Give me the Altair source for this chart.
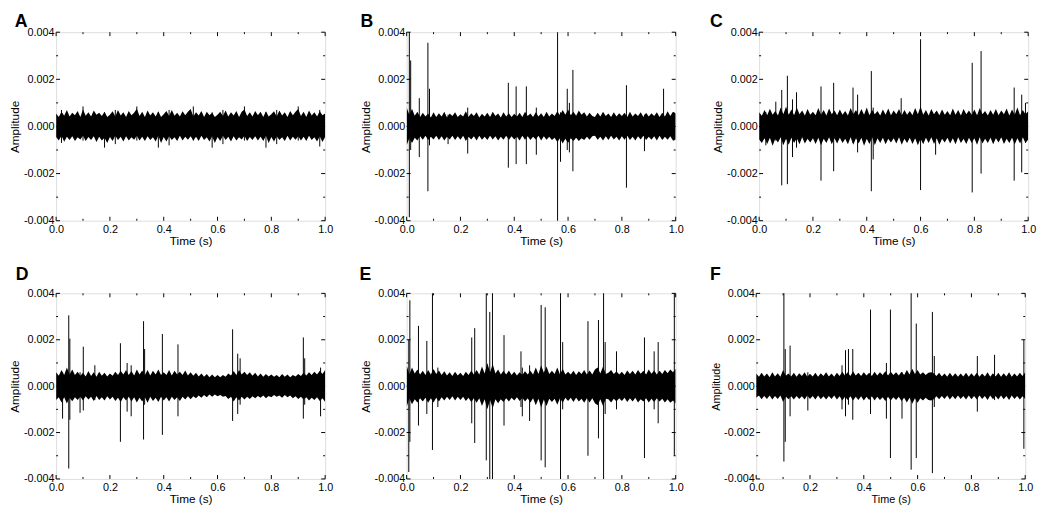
import altair as alt
import pandas as pd

FONT = "Liberation Sans"
W = 274

# sample grid (s) for the noise-band envelope
GRID_T = [0.00, 0.01, 0.02, 0.03, 0.04, 0.05, 0.06, 0.07, 0.08, 0.09,
          0.10, 0.11, 0.12, 0.13, 0.14, 0.15, 0.16, 0.17, 0.18, 0.19,
          0.20, 0.21, 0.22, 0.23, 0.24, 0.25, 0.26, 0.27, 0.28, 0.29,
          0.30, 0.31, 0.32, 0.33, 0.34, 0.35, 0.36, 0.37, 0.38, 0.39,
          0.40, 0.41, 0.42, 0.43, 0.44, 0.45, 0.46, 0.47, 0.48, 0.49,
          0.50, 0.51, 0.52, 0.53, 0.54, 0.55, 0.56, 0.57, 0.58, 0.59,
          0.60, 0.61, 0.62, 0.63, 0.64, 0.65, 0.66, 0.67, 0.68, 0.69,
          0.70, 0.71, 0.72, 0.73, 0.74, 0.75, 0.76, 0.77, 0.78, 0.79,
          0.80, 0.81, 0.82, 0.83, 0.84, 0.85, 0.86, 0.87, 0.88, 0.89,
          0.90, 0.91, 0.92, 0.93, 0.94, 0.95, 0.96, 0.97, 0.98, 0.99,
          1.00]

X_MAJOR = [0.0, 0.2, 0.4, 0.6, 0.8, 1.0]
X_MINOR = [0.1, 0.3, 0.5, 0.7, 0.9]
Y_MAJOR = [-0.004, -0.002, 0.0, 0.002, 0.004]
Y_MINOR = [-0.003, -0.001, 0.001, 0.003]

# noise-band envelope, units of 1e-5
A_UP = [55, 40, 62, 45, 70, 42, 58, 48, 66, 40, 72, 45, 60, 42, 68, 50, 58, 44, 62, 40,
        50, 64, 42, 70, 46, 60, 40, 66, 48, 58, 75, 44, 62, 40, 68, 46, 60, 42, 64, 40,
        52, 66, 44, 70, 45, 58, 42, 64, 48, 62, 74, 42, 60, 46, 66, 40, 62, 48, 58, 40,
        50, 62, 44, 68, 42, 60, 46, 66, 40, 62, 72, 44, 60, 42, 66, 48, 62, 40, 64, 42,
        52, 64, 42, 68, 46, 60, 40, 66, 48, 62, 74, 44, 62, 40, 68, 46, 60, 42, 64, 48, 55]
A_LO = [-45, -60, -40, -65, -44, -58, -42, -62, -46, -55, -40, -62, -45, -58, -42, -66, -44, -60, -48, -70,
        -45, -62, -40, -58, -44, -64, -42, -60, -46, -56, -40, -60, -44, -62, -42, -58, -46, -64, -40, -70,
        -45, -64, -42, -58, -46, -62, -40, -60, -44, -56, -42, -60, -44, -62, -40, -58, -46, -64, -42, -70,
        -45, -62, -40, -58, -44, -64, -42, -60, -46, -55, -40, -62, -45, -58, -42, -60, -44, -62, -40, -70,
        -45, -64, -42, -58, -46, -62, -40, -60, -44, -56, -42, -60, -44, -62, -40, -58, -46, -64, -42, -66, -45]

B_UP = [80, 50, 75, 45, 62, 40, 58, 42, 55, 38, 60, 40, 56, 42, 62, 38, 55, 44, 60, 40,
        52, 42, 65, 40, 56, 44, 60, 38, 54, 42, 58, 40, 62, 44, 55, 38, 60, 42, 56, 40,
        54, 42, 58, 40, 62, 44, 55, 40, 60, 42, 56, 40, 62, 42, 55, 44, 65, 48, 70, 50,
        72, 48, 62, 45, 68, 50, 60, 42, 58, 44, 40, 58, 42, 62, 44, 55, 40, 60, 42, 56,
        44, 58, 40, 62, 42, 55, 44, 60, 40, 58, 42, 56, 44, 60, 40, 58, 42, 64, 44, 62, 55]
B_LO = [-80, -50, -70, -48, -60, -42, -56, -40, -58, -44, -55, -40, -58, -42, -60, -44, -55, -40, -58, -42,
        -56, -40, -62, -44, -55, -42, -60, -40, -56, -44, -58, -40, -55, -42, -60, -44, -56, -40, -58, -42,
        -55, -44, -60, -40, -56, -42, -58, -44, -55, -40, -60, -42, -56, -44, -58, -48, -66, -50, -72, -52,
        -70, -50, -62, -48, -62, -50, -58, -44, -56, -42, -40, -56, -44, -60, -42, -58, -40, -55, -44, -60,
        -42, -56, -40, -58, -44, -60, -42, -55, -40, -58, -44, -56, -42, -60, -40, -58, -44, -56, -42, -60, -55]

C_UP = [60, 45, 70, 48, 75, 50, 66, 46, 80, 52, 85, 50, 72, 48, 80, 52, 68, 46, 74, 50,
        62, 48, 78, 50, 70, 46, 76, 52, 68, 48, 72, 50, 66, 46, 78, 52, 70, 48, 74, 50,
        80, 48, 70, 52, 66, 46, 72, 50, 76, 48, 68, 52, 74, 46, 70, 50, 66, 48, 78, 52,
        85, 50, 70, 46, 74, 52, 68, 48, 72, 50, 66, 48, 76, 50, 70, 46, 74, 52, 68, 50,
        72, 48, 78, 52, 66, 46, 70, 50, 74, 48, 68, 52, 76, 46, 72, 50, 80, 48, 70, 52, 65]
C_LO = [-55, -70, -50, -75, -48, -82, -52, -68, -46, -80, -52, -78, -48, -70, -50, -76, -46, -72, -52, -68,
        -50, -74, -48, -80, -52, -70, -46, -76, -50, -72, -48, -70, -52, -76, -46, -78, -50, -72, -48, -82,
        -52, -74, -46, -80, -50, -70, -48, -76, -52, -68, -50, -72, -46, -78, -52, -70, -48, -74, -50, -80,
        -52, -76, -48, -70, -46, -74, -50, -78, -52, -68, -48, -72, -50, -76, -46, -70, -52, -74, -48, -70,
        -50, -78, -46, -72, -52, -70, -48, -76, -50, -68, -46, -74, -52, -70, -48, -76, -50, -72, -46, -70, -55]

D_UP = [60, 45, 70, 48, 80, 50, 72, 48, 62, 45, 58, 42, 65, 44, 60, 40, 62, 45, 58, 42,
        55, 45, 62, 48, 66, 50, 70, 48, 65, 46, 72, 50, 68, 48, 70, 46, 66, 50, 72, 48,
        60, 48, 70, 46, 66, 50, 62, 48, 68, 46, 60, 45, 58, 42, 55, 40, 52, 38, 50, 38,
        48, 38, 48, 40, 55, 46, 65, 48, 70, 50, 62, 48, 60, 45, 58, 42, 55, 40, 52, 42,
        50, 40, 48, 38, 52, 40, 50, 38, 48, 42, 52, 44, 58, 46, 60, 48, 62, 50, 66, 52, 70]
D_LO = [-60, -48, -70, -48, -75, -50, -65, -48, -60, -46, -62, -44, -58, -46, -64, -42, -60, -48, -62, -44,
        -58, -46, -64, -50, -68, -48, -62, -46, -66, -48, -70, -50, -66, -48, -72, -46, -64, -50, -68, -46,
        -62, -48, -66, -46, -60, -48, -64, -46, -58, -44, -56, -44, -52, -40, -50, -38, -48, -36, -46, -36,
        -44, -38, -46, -42, -55, -46, -66, -48, -62, -46, -58, -46, -55, -44, -52, -42, -50, -40, -52, -42,
        -48, -38, -46, -40, -50, -38, -48, -40, -52, -44, -55, -46, -58, -48, -62, -50, -60, -48, -64, -52, -68]

E_UP = [90, 50, 80, 55, 72, 50, 66, 48, 70, 50, 74, 52, 68, 48, 64, 46, 60, 44, 62, 46,
        58, 44, 62, 48, 66, 50, 70, 50, 85, 55, 100, 60, 95, 55, 72, 50, 66, 50, 68, 48,
        62, 46, 60, 48, 64, 50, 66, 50, 80, 52, 90, 58, 85, 52, 66, 52, 80, 50, 75, 50,
        62, 50, 66, 48, 64, 52, 70, 50, 68, 50, 72, 80, 55, 85, 52, 58, 70, 52, 64, 50,
        62, 48, 68, 52, 66, 50, 70, 54, 66, 50, 72, 54, 68, 50, 66, 52, 70, 56, 72, 60, 75]
E_LO = [-90, -52, -78, -56, -70, -52, -66, -50, -72, -52, -70, -50, -66, -48, -62, -46, -60, -44, -62, -46,
        -60, -46, -64, -50, -68, -52, -72, -52, -86, -56, -100, -60, -95, -56, -74, -56, -68, -52, -66, -50,
        -62, -48, -64, -50, -66, -52, -70, -52, -82, -54, -92, -58, -86, -54, -68, -54, -80, -52, -72, -50,
        -64, -50, -68, -50, -66, -54, -72, -52, -70, -52, -74, -82, -56, -86, -54, -56, -70, -54, -66, -52,
        -64, -50, -68, -52, -66, -50, -70, -56, -66, -52, -70, -54, -68, -52, -66, -54, -70, -56, -72, -62, -75]

F_UP = [55, 40, 58, 42, 55, 38, 60, 42, 56, 40, 70, 45, 55, 42, 58, 40, 56, 44, 60, 40,
        54, 42, 58, 40, 56, 44, 60, 42, 55, 40, 58, 44, 62, 46, 60, 44, 64, 46, 58, 44,
        60, 46, 58, 44, 62, 46, 60, 48, 64, 46, 62, 48, 60, 46, 62, 48, 70, 50, 75, 52,
        70, 50, 60, 48, 58, 60, 56, 44, 58, 42, 55, 40, 58, 42, 56, 40, 55, 42, 58, 40,
        56, 42, 58, 40, 55, 42, 60, 40, 56, 42, 58, 40, 56, 42, 60, 40, 55, 42, 58, 44, 60]
F_LO = [-50, -40, -56, -42, -55, -40, -58, -42, -55, -40, -68, -45, -56, -44, -58, -42, -55, -44, -58, -40,
        -55, -42, -58, -40, -56, -44, -58, -42, -55, -40, -58, -44, -62, -46, -60, -44, -62, -46, -60, -44,
        -62, -46, -60, -44, -62, -46, -60, -48, -64, -46, -62, -48, -60, -46, -64, -50, -70, -50, -76, -52,
        -72, -52, -62, -50, -60, -62, -56, -44, -56, -42, -55, -40, -58, -42, -56, -40, -55, -42, -58, -40,
        -56, -42, -58, -40, -55, -42, -60, -40, -56, -42, -58, -40, -56, -42, -60, -40, -55, -42, -58, -44, -55]

# isolated spikes: time (s), peak and trough, units of 1e-4
A_ST = [0.02, 0.10, 0.18, 0.22, 0.30, 0.38, 0.42, 0.51, 0.58, 0.62, 0.70, 0.78, 0.82, 0.90, 0.98]
A_SHI = [7, 8.5, 6, 7, 8.5, 6, 7, 8.5, 6, 7, 8.5, 6, 7, 8.5, 7]
A_SLO = [-7, -6, -9, -7.5, -6, -9, -8, -6, -9, -7.5, -6, -9, -7.5, -6, -8.5]

B_ST = [0.010, 0.015, 0.047, 0.079, 0.085, 0.154, 0.227, 0.378, 0.407, 0.445, 0.482,
        0.561, 0.572, 0.597, 0.605, 0.618, 0.817, 0.884, 0.955, 0.993]
B_SHI = [45, 28, 12, 35.5, 16, 5, 8, 18.5, 17, 17, 8, 45, 6, 16, 10, 24, 17.5, 5, 16, 6]
B_SLO = [-38.5, -10, -13, -27.5, -8, -7.5, -11.5, -17.5, -16, -16, -12, -45, -15, -10, -11,
         -19, -26, -10.5, -5, -6]

C_ST = [0.025, 0.062, 0.084, 0.105, 0.124, 0.139, 0.230, 0.277, 0.349, 0.366, 0.417, 0.424,
        0.528, 0.600, 0.656, 0.792, 0.825, 0.948, 0.976, 0.990]
C_SHI = [6, 10.5, 15.5, 21.5, 11.5, 14.5, 17, 18.5, 16.5, 13.5, 23.5, 8, 12, 37, 6, 27, 32,
         16.5, 13.5, 10]
C_SLO = [-8, -6, -25, -24.5, -13, -9, -23, -19, -7, -11, -27.5, -14, -6, -27, -12, -28, -20,
         -23, -19.5, -7]

D_ST = [0.024, 0.047, 0.051, 0.089, 0.101, 0.144, 0.239, 0.264, 0.279, 0.325, 0.329, 0.395,
        0.453, 0.656, 0.675, 0.684, 0.919, 0.924, 0.983]
D_SHI = [6, 30.5, 20.5, 6, 17, 9, 18.5, 10, 9, 28, 16, 22.5, 18, 24.5, 14, 12, 21, 12, 8]
D_SLO = [-14, -35.5, -14.5, -11.5, -10.5, -6, -24, -11, -13, -23, -8, -21, -13, -15, -12, -8,
         -14, -8, -13]

E_ST = [0.008, 0.012, 0.044, 0.075, 0.096, 0.116, 0.242, 0.253, 0.296, 0.309, 0.319, 0.362,
        0.425, 0.430, 0.457, 0.500, 0.515, 0.572, 0.580, 0.674, 0.713, 0.732, 0.738, 0.780,
        0.884, 0.920, 0.935, 0.995]
E_SHI = [20, 37, 26, 19.5, 45, 8, 21, 25, 45, 32, 45, 22, 15, 8, 9, 35, 34, 45, 19, 28, 28.5,
         45, 19, 15, 21, 15, 19, 45]
E_SLO = [-37, -24, -17, -12, -27.5, -9, -16, -24.5, -32, -45, -45, -17, -9, -13, -15, -32, -35,
         -45, -10, -30, -22.5, -45, -12, -10, -31, -10, -16, -30]

F_ST = [0.103, 0.108, 0.126, 0.192, 0.319, 0.332, 0.343, 0.359, 0.425, 0.484, 0.499, 0.542,
        0.576, 0.595, 0.655, 0.662, 0.822, 0.886, 0.995]
F_SHI = [45, 16, 17.5, 6, 9, 15.5, 16, 16, 33, 10, 33, 6, 45, 27, 32, 13, 13, 13.5, 20]
F_SLO = [-32.5, -24, -13, -10.5, -10, -13, -8, -14.5, -12, -14, -31, -14, -36, -31, -37.5, -9,
         -11, -6, -27]

BAND_UNIT = 1e-5
SPIKE_UNIT = 1e-4


def panel(letter, up, lo, st, shi, slo, h, letter_dx, letter_dy, title_size=12):
    x_enc = alt.X(
        "t:Q",
        scale=alt.Scale(domain=[0, 1], nice=False, zero=False),
        axis=alt.Axis(values=X_MAJOR, format=".1f", ticks=False, domain=False, grid=False,
                      labelPadding=3, labelFontSize=11, labelFlush=False,
                      title="Time (s)", titleFontSize=title_size, titleFontWeight="normal",
                      titlePadding=1),
    )
    y_enc = alt.Y(
        "a:Q",
        scale=alt.Scale(domain=[-0.004, 0.004], nice=False, zero=False),
        axis=alt.Axis(values=Y_MAJOR, ticks=False, domain=False, grid=False,
                      labelPadding=2, labelFontSize=11, labelFlush=False,
                      labelExpr="datum.value < 0 ? '-' + format(-datum.value, '.3f') : format(datum.value, '.3f')",
                      title="Amplitude", titleFontSize=title_size, titleFontWeight="normal",
                      titlePadding=2),
    )
    band = pd.DataFrame({"t": GRID_T,
                         "a": [v * BAND_UNIT for v in up],
                         "a2": [v * BAND_UNIT for v in lo]})
    spikes = pd.DataFrame({"t": st,
                           "a": [v * SPIKE_UNIT for v in shi],
                           "a2": [v * SPIKE_UNIT for v in slo]})

    area = alt.Chart(band).mark_area(color="black", clip=True, strokeWidth=0).encode(
        x=x_enc, y=y_enc, y2="a2:Q")
    rules = alt.Chart(spikes).mark_rule(color="black", strokeWidth=1, clip=True).encode(
        x=x_enc, y=y_enc, y2="a2:Q")

    xmaj = pd.DataFrame({"t": X_MAJOR})
    xmin = pd.DataFrame({"t": X_MINOR})
    ymaj = pd.DataFrame({"a": Y_MAJOR})
    ymin = pd.DataFrame({"a": Y_MINOR})
    tick = dict(color="black", strokeWidth=1)
    label = alt.Chart(pd.DataFrame({"l": [letter]})).mark_text(
        font=FONT, fontSize=18, fontWeight="bold", color="black", align="left",
        baseline="top").encode(text="l:N", x=alt.value(letter_dx), y=alt.value(letter_dy))
    layers = [
        area, rules,
        alt.Chart(xmaj).mark_rule(**tick).encode(x=x_enc, y=alt.value(h), y2=alt.value(h - 4)),
        alt.Chart(xmaj).mark_rule(**tick).encode(x=x_enc, y=alt.value(0), y2=alt.value(4)),
        alt.Chart(xmin).mark_rule(**tick).encode(x=x_enc, y=alt.value(h), y2=alt.value(h - 2)),
        alt.Chart(xmin).mark_rule(**tick).encode(x=x_enc, y=alt.value(0), y2=alt.value(2)),
        alt.Chart(ymaj).mark_rule(**tick).encode(y=y_enc, x=alt.value(0), x2=alt.value(4)),
        alt.Chart(ymaj).mark_rule(**tick).encode(y=y_enc, x=alt.value(W), x2=alt.value(W - 4)),
        alt.Chart(ymin).mark_rule(**tick).encode(y=y_enc, x=alt.value(0), x2=alt.value(2)),
        alt.Chart(ymin).mark_rule(**tick).encode(y=y_enc, x=alt.value(W), x2=alt.value(W - 2)),
        label,
    ]
    return alt.layer(*layers).properties(width=W, height=h)


top = alt.hconcat(
    panel("A", A_UP, A_LO, A_ST, A_SHI, A_SLO, 192, -42, -19),
    panel("B", B_UP, B_LO, B_ST, B_SHI, B_SLO, 192, -47, -19),
    panel("C", C_UP, C_LO, C_ST, C_SHI, C_SLO, 192, -50, -19),
    spacing=25,
)
bottom = alt.hconcat(
    panel("D", D_UP, D_LO, D_ST, D_SHI, D_SLO, 189, -41, -28),
    panel("E", E_UP, E_LO, E_ST, E_SHI, E_SLO, 189, -48, -28),
    panel("F", F_UP, F_LO, F_ST, F_SHI, F_SLO, 189, -47, -28, title_size=11),
    spacing=25,
)
chart = alt.vconcat(top, bottom, spacing=18).properties(padding=0).configure_view(
    stroke="black", strokeWidth=1
).configure_axis(
    labelFont=FONT, titleFont=FONT, labelColor="black", titleColor="black"
).configure(background="white")

chart.save("out.html", embed_options={"renderer": "svg", "actions": False})
